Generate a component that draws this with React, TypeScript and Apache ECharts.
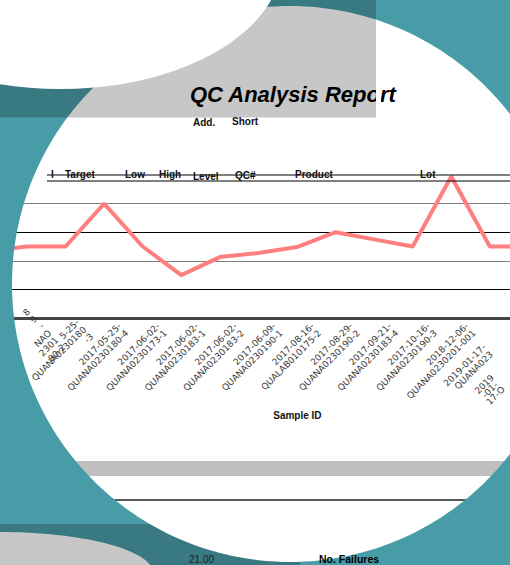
import React, { useEffect, useRef } from 'react';
import * as echarts from 'echarts';

// ---- data ----
const runIndex = ['1', '2', '3', '4', '5', '6', '7', '8', '9', '10', '11', '12', '13', '14', '15'];
const qcValues = [20.34, 20.5, 20.5, 22.0, 20.5, 19.5, 20.13, 20.27, 20.48, 21.0, 20.75, 20.5, 22.95, 20.5, 20.5];
const sampleIds = [
  '',
  '8\n9\n-\nNAO\n2301\n80-2',
  '5-25-\nQUANA0230180\n-3',
  '2017-05-25-\nQUANA0230180-4',
  '2017-06-02-\nQUANA0230173-1',
  '2017-06-02-\nQUANA0230183-1',
  '2017-06-02-\nQUANA0230183-2',
  '2017-06-09-\nQUANA0230190-1',
  '2017-08-16-\nQUALAB010175-2',
  '2017-08-29-\nQUANA0230190-2',
  '2017-09-21-\nQUANA0230183-4',
  '2017-10-16-\nQUANA0230190-3',
  '2018-12-06-\nQUANA0230201-001',
  '2019-01-17-\nQUANA023',
];
const trailingSample = '2019\n-01-\n17-O';
const yMin = 18;
const yMax = 23;
const yStep = 1;
const headerCols = ['I', 'Target', 'Low', 'High', 'Level', 'QC#', 'Product', 'Lot'];
const headerX = [51, 65, 125, 159, 193, 235, 295, 420];
const headerY = [174, 174, 174, 174, 176.5, 175, 174, 174];
const subHeaders = ['Add.', 'Short'];
const targetValue = '21.00';
const failuresLabel = 'No. Failures';

const W = 510;
const H = 565;
const CX = 290;
const CY = 284;
const R = 278;
const TEAL = '#489ca7';
const SHADE = 'rgba(0,0,0,0.22)';

function overlayPoints() {
  const pts: number[][] = [[0, CY], [0, 0], [W, 0], [W, H], [0, H], [0, CY]];
  const n = 240;
  for (let i = 0; i <= n; i++) {
    const t = Math.PI - (2 * Math.PI * i) / n;
    pts.push([CX + R * Math.cos(t), CY + R * Math.sin(t)]);
  }
  return pts;
}

function bottomShadePoints() {
  const yTop = 524;
  const xRight = 300;
  const xa = CX - Math.sqrt(R * R - (yTop - CY) * (yTop - CY));
  const t1 = Math.atan2(yTop - CY, xa - CX);
  const yb = CY + Math.sqrt(R * R - (xRight - CX) * (xRight - CX));
  const t2 = Math.atan2(yb - CY, xRight - CX);
  const pts: number[][] = [[0, yTop], [xa, yTop]];
  const n = 60;
  for (let i = 1; i <= n; i++) {
    const t = t1 + ((t2 - t1) * i) / n;
    pts.push([CX + R * Math.cos(t), CY + R * Math.sin(t)]);
  }
  pts.push([xRight, H], [0, H]);
  return pts;
}

export default function App() {
  const ref = useRef<HTMLDivElement>(null);
  useEffect(() => {
    const chart = echarts.init(ref.current!, null, { renderer: 'svg' });
    const font = 'Liberation Sans';
    const headerTexts = headerCols.map((t, i) => ({
      type: 'text',
      x: headerX[i],
      y: headerY[i],
      z: 5,
      style: { text: t, fontSize: 10, fontWeight: 'bold', fontFamily: font, fill: '#111', verticalAlign: 'middle' },
    }));
    const option: any = {
      animation: false,
      backgroundColor: '#ffffff',
      title: {
        text: 'QC Analysis Report',
        left: 190,
        top: 83,
        padding: 0,
        textStyle: { fontSize: 22, fontWeight: 'bold', fontStyle: 'italic', fontFamily: font, color: '#000' },
      },
      grid: { left: -11.6, right: -18.4, top: 175, bottom: 247, outerBoundsMode: 'none', containLabel: false },
      xAxis: [
        {
          type: 'category',
          data: runIndex,
          boundaryGap: false,
          position: 'bottom',
          axisLine: { show: true, lineStyle: { color: '#444', width: 3 } },
          axisTick: { show: false },
          axisLabel: { show: false },
          splitLine: { show: false },
        },
        {
          type: 'category',
          data: sampleIds.map((s, i) =>
            i === sampleIds.length - 1 ? { value: s, textStyle: { padding: [0, 30, 0, 0] } } : s
          ),
          boundaryGap: true,
          position: 'bottom',
          axisLine: { show: false },
          axisTick: { show: false },
          splitLine: { show: false },
          axisLabel: {
            interval: 0,
            rotate: 45,
            margin: 10,
            fontSize: 9,
            lineHeight: 10,
            fontFamily: 'DejaVu Sans',
            color: '#3a3a3a',
          },
          name: 'Sample ID',
          nameLocation: 'middle',
          nameGap: 92,
          nameMoveOverlap: false,
          nameTextStyle: { fontSize: 10, fontWeight: 'bold', fontFamily: font, color: '#111', padding: [0, 0, 0, 78] },
        },
      ],
      yAxis: {
        type: 'value',
        min: yMin,
        max: yMax,
        interval: yStep,
        axisLine: { show: false },
        axisTick: { show: false },
        axisLabel: { show: false },
        splitLine: {
          show: true,
          lineStyle: { color: ['#444', '#000', '#7f7f7f', '#000', '#7f7f7f', 'rgba(0,0,0,0)'], width: 1.2 },
        },
      },
      series: [
        {
          type: 'line',
          data: qcValues,
          xAxisIndex: 0,
          yAxisIndex: 0,
          symbol: 'none',
          lineStyle: { color: '#ff7f7f', width: 4 },
          z: 3,
        },
      ],
      graphic: [
        { type: 'line', z: 4, shape: { x1: 47, y1: 175, x2: W, y2: 175 }, style: { stroke: '#000', lineWidth: 1 } },
        { type: 'line', z: 4, shape: { x1: 47, y1: 181, x2: W, y2: 181 }, style: { stroke: '#000', lineWidth: 1 } },
        ...headerTexts,
        {
          type: 'text', x: 193, y: 122.5, z: 5,
          style: { text: subHeaders[0], fontSize: 10, fontWeight: 'bold', fontFamily: font, fill: '#111', verticalAlign: 'middle' },
        },
        {
          type: 'text', x: 232, y: 121.5, z: 5,
          style: { text: subHeaders[1], fontSize: 10, fontWeight: 'bold', fontFamily: font, fill: '#111', verticalAlign: 'middle' },
        },
        {
          type: 'text', x: 490, y: 390, z: 5, rotation: Math.PI / 4,
          style: { text: trailingSample, fontSize: 9, lineHeight: 8, fontFamily: 'DejaVu Sans', fill: '#3a3a3a', align: 'center', verticalAlign: 'middle' },
        },
        { type: 'rect', z: 1, shape: { x: 0, y: 461, width: W, height: 15 }, style: { fill: '#bfbfbf' } },
        { type: 'line', z: 1, shape: { x1: 0, y1: 500, x2: W, y2: 500 }, style: { stroke: '#222', lineWidth: 1.5 } },
        { type: 'rect', z: 10, shape: { x: 376, y: 84, width: 5, height: 22 }, style: { fill: '#ffffff' } },
        { type: 'polygon', z: 100, shape: { points: overlayPoints() }, style: { fill: TEAL } },
        { type: 'polygon', z: 101, shape: { points: bottomShadePoints() }, style: { fill: SHADE } },
        { type: 'ellipse', z: 102, shape: { cx: 0, cy: 573, rx: 153, ry: 41 }, style: { fill: '#c7c7c7' } },
        { type: 'rect', z: 103, shape: { x: 0, y: 0, width: 376, height: 117.5 }, style: { fill: SHADE } },
        { type: 'ellipse', z: 104, shape: { cx: 60, cy: -40, rx: 222, ry: 129 }, style: { fill: '#ffffff' } },
        {
          type: 'text', x: 189, y: 559, z: 110,
          style: { text: targetValue, fontSize: 10, fontFamily: font, fill: '#222', verticalAlign: 'middle' },
        },
        {
          type: 'text', x: 319, y: 559, z: 110,
          style: { text: failuresLabel, fontSize: 10.5, fontWeight: 'bold', fontFamily: font, fill: '#000', verticalAlign: 'middle' },
        },
      ],
    };
    chart.setOption(option);
    return () => chart.dispose();
  }, []);
  return <div ref={ref} style={{ width: W, height: H, position: 'absolute', left: 0, top: 0 }} />;
}
